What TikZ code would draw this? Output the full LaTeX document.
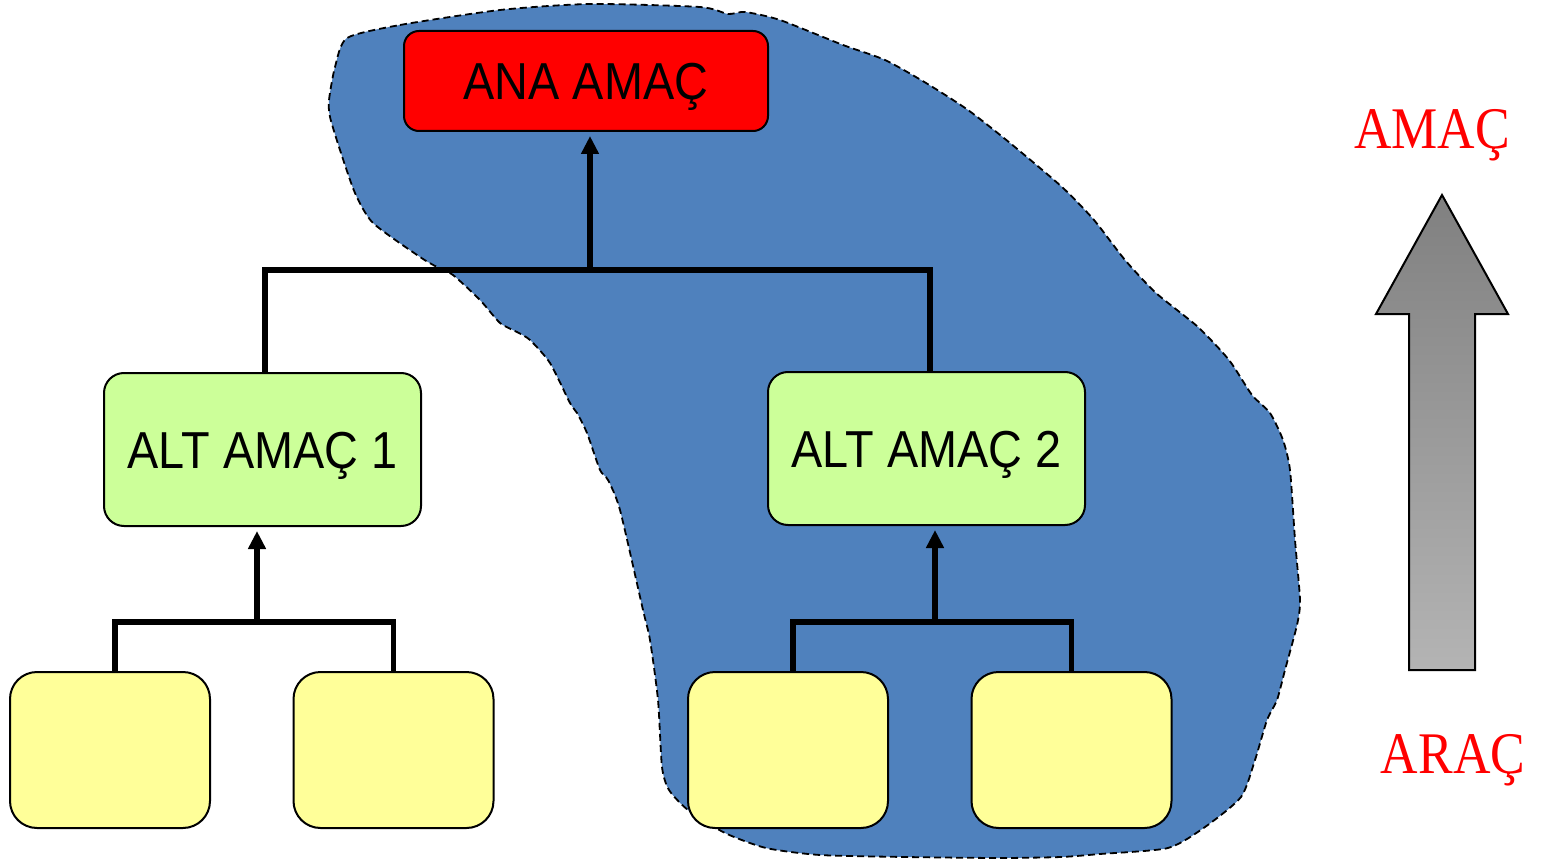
\documentclass[tikz,border=0pt]{standalone}
\usepackage{fontspec}
\setmainfont{Liberation Sans}
\newfontfamily\boxfont[FakeStretch=0.9]{Liberation Sans}
\newfontfamily\redfont[FakeStretch=0.88]{Liberation Serif}
\usetikzlibrary{arrows.meta}
\definecolor{blobblue}{HTML}{4F81BD}
\definecolor{anared}{HTML}{FF0000}
\definecolor{altgreen}{HTML}{CCFF99}
\definecolor{leafyellow}{HTML}{FFFF99}
\definecolor{arrtop}{RGB}{128,128,128}
\definecolor{arrbot}{RGB}{180,180,180}
\tikzset{
  boxbase/.style={draw=black, line width=2pt, inner sep=0pt, text height=37pt, text depth=0pt,
    font=\boxfont\fontsize{52}{60}\selectfont},
  anabox/.style={boxbase, fill=anared, rounded corners=15pt, minimum width=364pt, minimum height=100pt},
  altbox/.style={boxbase, fill=altgreen, rounded corners=20pt, minimum width=317pt, minimum height=153pt},
  leafbox/.style={boxbase, fill=leafyellow, rounded corners=27pt, minimum width=200pt, minimum height=156pt},
  conn/.style={draw=black, line width=5.5pt, line join=miter},
  uparrow/.style={conn, -{Triangle[length=18pt,width=17pt]}, shorten >=4pt},
  redlabel/.style={text=anared, anchor=base, inner sep=0pt, font=\redfont\fontsize{59}{66}\selectfont},
  blob/.style={fill=blobblue, draw=black, line width=1.8pt, dash pattern=on 7pt off 4pt}
}
\begin{document}
\begin{tikzpicture}[x=1pt,y=-1pt]
\useasboundingbox (0,0) rectangle (1548,861);
% blob
\path[blob] plot[smooth cycle, tension=0.4] coordinates {
(347,38) (400,25) (500,10) (590,4) (700,7) (728,14) (745,12) (780,20) (843,45) (885,60) (926,83) (968,110) (1010,143) (1062,187) (1094,220) (1125,260) (1156,293) (1198,327) (1229,360) (1252,395) (1270,413) (1283,440) (1290,470) (1295,540) (1300,600) (1297,625) (1285,670) (1277,700) (1267,720) (1255,760) (1241,797) (1205,827) (1168,848) (1100,854) (1061,857) (1000,858) (905,857) (820,855) (766,848) (725,833) (688,810) (669,790) (662,767) (658,700) (650,640) (643,610) (620,510) (608,480) (600,470) (587,433) (577,413) (570,403) (550,363) (530,340) (517,332) (500,323) (480,300) (453,275) (437,267) (420,257) (373,223) (355,193) (340,150) (330,117) (329,100) (335,67)};

% nodes
\node[anabox] (ana) at (586,81) {ANA AMAÇ};
\node[altbox] (alt1) at (262.5,449.5) {ALT AMAÇ 1};
\node[altbox] (alt2) at (926.5,448.5) {ALT AMAÇ 2};
\node[leafbox] (l1) at (110,750) {};
\node[leafbox] (l2) at (393.5,750) {};
\node[leafbox] (l3) at (788,750) {};
\node[leafbox] (l4) at (1071.5,750) {};

% junctions
\coordinate (j0) at (590,270);
\coordinate (j1) at (257,622);
\coordinate (j2) at (935,622);

% connectors
\draw[conn] ([xshift=2.5pt]alt1.north) |- (j0) -| ([xshift=3.5pt]alt2.north);
\draw[uparrow] (j0) -- (j0 |- ana.south);
\draw[conn] ([xshift=5pt]l1.north) |- (j1) -| (l2.north);
\draw[uparrow] (j1) -- (j1 |- alt1.south);
\draw[conn] ([xshift=5pt]l3.north) |- (j2) -| (l4.north);
\draw[uparrow] (j2) -- (j2 |- alt2.south);

% big grey arrow
\draw[line width=2pt, line join=miter, top color=arrtop, bottom color=arrbot]
  (1442,195) -- (1508,314) -- (1475,314) -- (1475,670) -- (1409,670) -- (1409,314) -- (1376,314) -- cycle;

\node[redlabel] (amac) at (1432,149) {AMAÇ};
\node[redlabel] (arac) at (1453,773) {ARAÇ};
\end{tikzpicture}
\end{document}
